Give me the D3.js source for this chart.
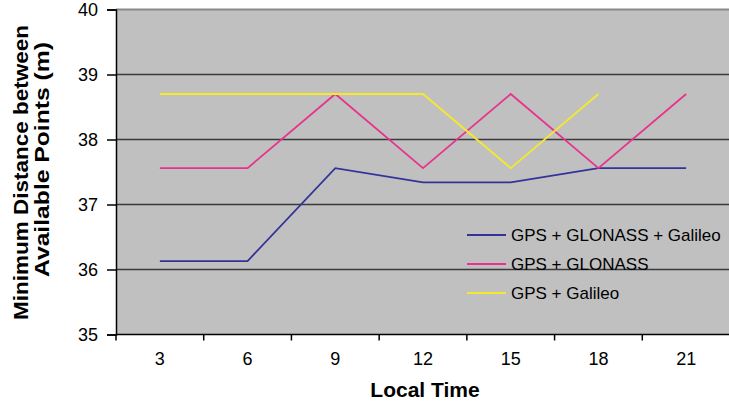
<!DOCTYPE html>
<html>
<head>
<meta charset="utf-8">
<script src="https://cdn.jsdelivr.net/npm/d3@7"></script>
<style>
  html, body { margin: 0; padding: 0; background: #ffffff; }
  svg { display: block; font-family: "Liberation Sans", Arial, sans-serif; }
</style>
</head>
<body>
<svg id="chart" width="729" height="404"></svg>
<script>
const categories = ["3", "6", "9", "12", "15", "18", "21"];
const seriesNames = ["GPS + GLONASS + Galileo", "GPS + GLONASS", "GPS + Galileo"];
const seriesColors = ["#333399", "#e8338c", "#f5e92c"];
const gpsGlonassGalileo = [36.13, 36.13, 37.56, 37.34, 37.34, 37.56, 37.56];
const gpsGlonass = [37.56, 37.56, 38.70, 37.56, 38.70, 37.56, 38.70];
const gpsGalileo = [38.70, 38.70, 38.70, 38.70, 37.56, 38.70, null];
const yTicks = [35, 36, 37, 38, 39, 40];
const xTitle = "Local Time";
const yTitleLines = ["Minimum Distance between", "Available Points (m)"];

const seriesValues = [gpsGlonassGalileo, gpsGlonass, gpsGalileo];

const svg = d3.select("#chart");
const pLeft = 116, pRight = 730, pTop = 9.5, pBottom = 334.5;

const x = d3.scaleBand().domain(categories).range([pLeft, pRight]).paddingInner(0).paddingOuter(0);
const y = d3.scaleLinear().domain([35, 40]).range([pBottom, pTop]);

// plot area
svg.append("rect")
  .attr("x", pLeft).attr("y", pTop)
  .attr("width", 740 - pLeft).attr("height", pBottom - pTop)
  .attr("fill", "#c0c0c0");

// gridlines
svg.append("g").selectAll("line")
  .data(yTicks.filter(d => d > 35))
  .join("line")
  .attr("x1", pLeft).attr("x2", 740)
  .attr("y1", d => y(d)).attr("y2", d => y(d))
  .attr("stroke", d => d === 40 ? "#8a8a8a" : "#3a3a3a")
  .attr("stroke-width", d => d === 40 ? 2 : 1.3);

// y axis
const yAxis = d3.axisLeft(y).tickValues(yTicks).tickSize(9).tickPadding(9).tickFormat(d3.format("d"));
const gy = svg.append("g").attr("transform", `translate(${pLeft},0)`).call(yAxis);
gy.select(".domain").attr("stroke", "#000").attr("stroke-width", 1.5);
gy.selectAll(".tick line").attr("stroke", "#000").attr("stroke-width", 1.5);
gy.selectAll(".tick text").attr("font-size", 18).attr("fill", "#000")
  .attr("font-family", "Liberation Sans, Arial, sans-serif");

// x axis (ticks at band boundaries)
const boundaries = categories.map(c => x(c)).concat([pRight]);
const gx = svg.append("g");
gx.append("line").attr("x1", pLeft).attr("x2", 740).attr("y1", pBottom).attr("y2", pBottom)
  .attr("stroke", "#000").attr("stroke-width", 1.5);
gx.selectAll("line.tk").data(boundaries).join("line").attr("class", "tk")
  .attr("x1", d => d).attr("x2", d => d).attr("y1", pBottom).attr("y2", pBottom + 6)
  .attr("stroke", "#000").attr("stroke-width", 1.5);
gx.selectAll("text").data(categories).join("text")
  .attr("x", d => x(d) + x.bandwidth() / 2).attr("y", 364.5)
  .attr("text-anchor", "middle").attr("font-size", 18).attr("fill", "#000")
  .text(d => d);

// lines
const line = d3.line()
  .defined(d => d.v !== null)
  .x(d => x(d.c) + x.bandwidth() / 2)
  .y(d => y(d.v));

seriesValues.forEach((vals, i) => {
  svg.append("path")
    .datum(categories.map((c, j) => ({ c, v: vals[j] })))
    .attr("d", line)
    .attr("fill", "none")
    .attr("stroke", seriesColors[i])
    .attr("stroke-width", 1.8);
});

// legend
const legend = svg.append("g");
seriesNames.forEach((name, i) => {
  const ly = 235 + i * 29;
  legend.append("line").attr("x1", 467).attr("x2", 506).attr("y1", ly).attr("y2", ly)
    .attr("stroke", seriesColors[i]).attr("stroke-width", 1.8);
  legend.append("text").attr("x", 511).attr("y", ly + 6)
    .attr("font-size", 17).attr("fill", "#000").text(name);
});

// axis titles
svg.append("text").attr("x", 425).attr("y", 397).attr("text-anchor", "middle")
  .attr("font-size", 21).attr("font-weight", "bold").text(xTitle);

svg.append("text").attr("transform", "translate(28,172.5) rotate(-90)")
  .attr("text-anchor", "middle").attr("font-weight", "bold").attr("font-size", 21)
  .attr("textLength", 295).attr("lengthAdjust", "spacingAndGlyphs")
  .text(yTitleLines[0]);
svg.append("text").attr("transform", "translate(49,159.5) rotate(-90)")
  .attr("text-anchor", "middle").attr("font-weight", "bold").attr("font-size", 21)
  .attr("textLength", 235).attr("lengthAdjust", "spacingAndGlyphs")
  .text(yTitleLines[1]);
</script>
</body>
</html>
